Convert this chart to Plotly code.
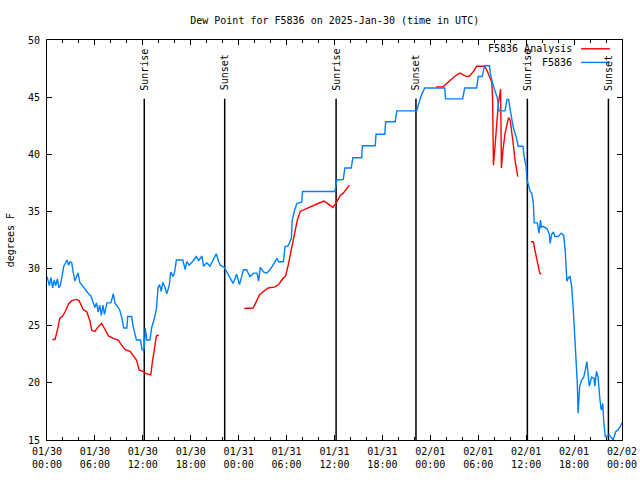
import plotly.graph_objects as go

# Hours since 2025-01-30 00:00 UTC
obs_hours = [0.0, 0.3, 0.5, 0.7, 0.9, 1.1, 1.3, 1.5, 1.7, 1.9, 2.1, 2.5, 2.7, 2.9, 3.1, 3.3, 3.5, 3.7, 3.9, 4.1,
             4.5, 4.8, 5.2, 5.5, 5.8, 6.0, 6.2, 6.4, 6.6, 6.8, 7.0, 7.2, 7.5, 8.0, 8.3, 8.5, 9.1, 9.4, 9.6, 10.0,
             10.1, 10.6, 10.8, 11.1, 11.2, 11.7, 11.9, 12.1, 12.2, 12.3, 12.5, 12.9, 13.1, 13.5, 13.7, 13.9, 14.1,
             14.3, 14.5, 14.8, 15.0, 15.3, 15.5, 15.8, 16.0, 16.2, 17.0, 17.2, 17.3, 17.5, 17.8, 18.2, 18.7, 19.0,
             19.4, 19.6, 20.0, 20.4, 20.8, 21.2, 21.5, 21.7, 22.2, 22.5, 22.9, 23.3, 23.75, 24.1, 24.6, 25.0, 25.4,
             25.9, 26.3, 26.5, 26.7, 27.1, 27.5, 27.9, 28.3, 28.8, 29.0, 29.6, 29.8, 30.2, 30.6, 30.7, 31.0, 31.3,
             31.9, 32.0, 36.05, 36.3, 37.1, 37.3, 38.1, 38.3, 39.4, 39.5, 41.1, 41.2, 42.3, 42.4, 43.6, 43.8, 46.3,
             46.5, 46.7, 46.9, 47.3, 49.8, 49.9, 52.05, 52.3, 53.8, 54.0, 54.5, 54.8, 55.4, 55.5, 55.8, 56.1, 56.4,
             56.6, 57.35, 57.6, 57.8, 58.0, 58.2, 58.4, 58.8, 59.0, 59.6, 59.75, 60.0, 60.1, 60.3, 60.5, 60.7, 60.9,
             61.0, 61.4, 61.6, 61.8, 61.9, 62.1, 62.6, 62.9, 63.0, 63.2, 63.4, 63.6, 64.0, 64.4, 64.7, 64.9, 65.1,
             65.3, 65.5, 65.7, 65.9, 66.1, 66.25, 66.4, 66.5, 66.7, 66.95, 67.2, 67.4, 67.6, 67.8, 67.9, 68.2, 68.5,
             68.6, 68.8, 69.0, 69.1, 69.2, 69.4, 69.6, 69.7, 69.9, 70.4, 70.9, 71.2, 71.5, 71.8, 72.0]
obs_dewpt = [29.3, 28.5, 29.2, 28.3, 29.0, 28.5, 29.1, 28.3, 28.6, 29.5, 30.2, 30.75, 30.3, 30.6, 30.5, 29.6, 28.9,
             29.3, 29.6, 28.8, 28.4, 28.2, 27.8, 27.6, 27.1, 26.6, 27.0, 26.2, 26.8, 25.9, 26.8, 26.0, 27.0, 27.0,
             27.8, 27.0, 26.4, 25.6, 24.8, 24.8, 25.8, 25.8, 24.9, 24.0, 23.75, 23.75, 22.9, 22.8, 23.3, 24.8,
             23.75, 23.75, 24.8, 25.8, 26.5, 28.3, 28.6, 28.0, 28.8, 28.3, 27.8, 28.5, 29.7, 29.3, 29.8, 30.75,
             30.75, 30.2, 29.9, 30.6, 30.3, 30.6, 31.05, 30.7, 31.1, 30.2, 30.5, 30.2, 30.7, 31.3, 30.6, 30.3,
             30.1, 29.7, 29.3, 28.7, 29.5, 28.6, 29.9, 29.9, 29.3, 29.6, 29.6, 28.9, 30.1, 29.7, 29.6, 29.9, 30.3,
             30.9, 30.6, 30.6, 31.9, 32.0, 32.65, 34.25, 35.1, 35.7, 35.8, 36.75, 36.75, 37.75, 37.8, 38.8, 38.8,
             39.7, 39.7, 40.75, 40.75, 41.75, 41.75, 42.85, 42.85, 43.8, 43.8, 44.45, 44.8, 45.2, 45.8, 45.8,
             44.85, 44.85, 45.8, 45.8, 46.8, 46.8, 47.75, 47.75, 47.1, 46.2, 45.6, 44.9, 43.8, 43.8, 44.8, 44.8,
             43.9, 43.0, 42.3, 41.4, 40.7, 40.7, 39.8, 38.9, 37.75, 37.3, 36.75, 36.6, 35.7, 34.0, 34.0, 33.1,
             34.25, 33.6, 33.7, 33.5, 33.0, 32.2, 33.0, 33.2, 32.8, 32.8, 33.1, 32.9, 31.5, 28.9, 29.2, 29.3, 28.4,
             26.4, 24.2, 22.0, 20.0, 17.35, 19.7, 20.25, 20.5, 21.1, 21.85, 20.5, 19.7, 20.5, 20.4, 19.7, 21.0,
             20.5, 19.5, 18.8, 17.6, 18.2, 16.75, 15.3, 15.45, 15.0, 15.7, 15.9, 16.2, 16.5]

ana_hours = [0.67, 1.0, 1.3, 1.6, 1.95, 2.25, 2.7, 3.1, 3.7, 4.0, 4.55, 5.0, 5.4, 5.6, 6.0, 6.4, 6.85, 7.3, 7.7,
             8.3, 8.9, 9.35, 9.8, 10.4, 10.8, 11.2, 11.55, 12.05, 12.4, 13.0, 13.2, 13.45, 13.7, 14.0, None,
             24.7, 25.8, 26.0, 26.6, 27.1, 27.7, 28.55, 29.0, 29.4, 29.9, 30.2, 30.6, 31.05, 31.35, 31.7, 32.3,
             32.9, 33.8, 34.7, 35.2, 35.8, 36.3, 36.7, 37.1, 37.5, 37.85, None,
             48.7, 49.6, 50.05, 50.5, 51.1, 51.7, 52.0, 52.55, 52.9, 53.4, 53.8, 54.8, 55.05, 55.5, 55.7, 55.8,
             55.9, 56.1, 56.3, 56.5, 56.8, 56.9, 57.1, 57.35, 57.6, 57.8, 58.0, 58.2, 58.4, 58.6, 58.8, 58.95, None,
             60.6, 60.9, 61.1, 61.3, 61.5, 61.7, 61.9]
ana_dewpt = [23.8, 23.8, 24.6, 25.65, 25.85, 26.2, 26.9, 27.2, 27.3, 27.2, 26.4, 26.2, 25.35, 24.6, 24.5, 24.9,
             25.2, 24.6, 24.1, 23.9, 23.75, 23.3, 22.9, 22.75, 22.4, 22.0, 21.1, 21.0, 20.8, 20.7, 21.85, 22.9,
             24.1, 24.2, None,
             26.5, 26.55, 26.8, 27.7, 28.0, 28.3, 28.4, 28.6, 29.0, 29.4, 30.3, 31.6, 33.1, 34.25, 35.0, 35.2,
             35.4, 35.65, 35.9, 35.65, 35.35, 35.85, 36.4, 36.6, 37.0, 37.3, None,
             45.9, 45.9, 46.2, 46.5, 46.85, 47.1, 47.0, 46.8, 46.85, 47.25, 47.7, 47.7, 47.4, 46.65, 46.3, 44.75,
             39.05, 40.7, 42.6, 44.3, 45.7, 38.8, 40.4, 41.8, 42.6, 43.2, 43.0, 42.1, 40.8, 39.5, 38.5, 38.05, None,
             32.35, 32.35, 31.6, 30.9, 30.3, 29.6, 29.5]

sun_hours = [12.18, 22.25, 36.2, 46.2, 60.15, 70.3]
sun_labels = ["Sunrise", "Sunset", "Sunrise", "Sunset", "Sunrise", "Sunset"]

tick_hours = [0, 6, 12, 18, 24, 30, 36, 42, 48, 54, 60, 66, 72]
tick_labels = ["01/30<br>00:00", "01/30<br>06:00", "01/30<br>12:00", "01/30<br>18:00",
               "01/31<br>00:00", "01/31<br>06:00", "01/31<br>12:00", "01/31<br>18:00",
               "02/01<br>00:00", "02/01<br>06:00", "02/01<br>12:00", "02/01<br>18:00",
               "02/02<br>00:00"]
y_ticks = [15, 20, 25, 30, 35, 40, 45, 50]

FONT = "DejaVu Sans Mono"
RED = "#ff0000"
BLUE = "#0080ff"

fig = go.Figure()

# sunrise / sunset lines
vx, vy = [], []
for h in sun_hours:
    vx += [h, h, None]
    vy += [15, 44.85, None]
fig.add_trace(go.Scatter(x=vx, y=vy, mode="lines", line=dict(color="black", width=1.5),
                         showlegend=False, hoverinfo="skip"))

fig.add_trace(go.Scatter(x=ana_hours, y=ana_dewpt, mode="lines", name="F5836 Analysis",
                         line=dict(color=RED, width=1.4), connectgaps=False))
fig.add_trace(go.Scatter(x=obs_hours, y=obs_dewpt, mode="lines", name="F5836",
                         line=dict(color=BLUE, width=1.4)))

annotations = []
for h, lab in zip(sun_hours, sun_labels):
    annotations.append(dict(x=h, y=45.4, xref="x", yref="y", text=lab, textangle=-90,
                            showarrow=False, xanchor="center", yanchor="bottom",
                            font=dict(family=FONT, size=10, color="black")))

# legend (gnuplot style: text then sample)
leg = [("F5836 Analysis", RED, 0.978), ("F5836", BLUE, 0.944)]
shapes = []
for name, col, yp in leg:
    annotations.append(dict(x=0.9165, y=yp, xref="paper", yref="paper", text=name,
                            showarrow=False, xanchor="right", yanchor="middle",
                            font=dict(family=FONT, size=10, color="black")))
    shapes.append(dict(type="line", xref="paper", yref="paper", x0=0.9287, x1=0.9791,
                       y0=yp, y1=yp, line=dict(color=col, width=1.4)))

annotations.append(dict(x=-0.064, y=0.5, xref="paper", yref="paper", text="degrees F", showarrow=False,
                        textangle=-90, xanchor="center", yanchor="middle",
                        font=dict(family=FONT, size=10, color="black")))

fig.update_layout(
    width=640, height=480,
    margin=dict(l=47, r=18, t=40, b=40),
    paper_bgcolor="white", plot_bgcolor="white",
    showlegend=False,
    font=dict(family=FONT, size=10, color="black"),
    title=dict(text="Dew Point for F5836 on 2025-Jan-30 (time in UTC)", x=0.523, y=0.958,
               xanchor="center", yanchor="middle", font=dict(family=FONT, size=10, color="black")),
    annotations=annotations,
    shapes=shapes,
)
fig.update_xaxes(range=[0, 72], tickvals=tick_hours, ticktext=tick_labels, ticks="inside", ticklen=5,
                 tickcolor="black", showline=True, linecolor="black", linewidth=1, mirror="ticks",
                 showgrid=False, zeroline=False, automargin=False, ticklabelstandoff=2,
                 minor=dict(dtick=2, tick0=0, ticks="inside", ticklen=3, tickcolor="black", showgrid=False))
fig.update_yaxes(range=[15, 50], tickvals=y_ticks, ticks="inside", ticklen=5, tickcolor="black",
                 showline=True, linecolor="black", linewidth=1, mirror="ticks",
                 showgrid=False, zeroline=False, automargin=False, ticklabelstandoff=4)

fig.write_html("out.html")
